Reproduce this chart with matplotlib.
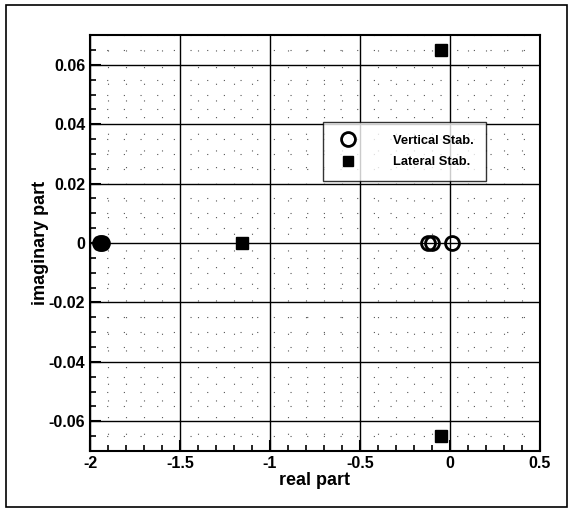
import matplotlib
matplotlib.use('Agg')
import matplotlib.pyplot as plt
from matplotlib.patches import Rectangle
from matplotlib.ticker import MultipleLocator

# eigenvalues (real, imaginary)
vert_re = [-1.945, -1.935, -0.12, -0.10, 0.01]
vert_im = [0.0, 0.0, 0.0, 0.0, 0.0]
lat_re = [-1.94, -1.155, -0.05, -0.05]
lat_im = [0.0, 0.0, 0.065, -0.065]

plt.rcParams['font.family'] = ['Liberation Sans', 'DejaVu Sans']
plt.rcParams['font.weight'] = 'bold'

fig = plt.figure(figsize=(5.7, 5.09), dpi=100)
ax = fig.add_axes([0.158, 0.114, 0.789, 0.817])

ax.plot(vert_re, vert_im, 'o', ms=10, mfc='none', mec='black', mew=2.0,
        ls='none', label='Vertical Stab.')
ax.plot(lat_re, lat_im, 's', ms=8, mfc='black', mec='black',
        ls='none', label='Lateral Stab.')

ax.set_xlim(-2, 0.5)
ax.set_ylim(-0.07, 0.07)
ax.xaxis.set_minor_locator(MultipleLocator(0.1))
ax.yaxis.set_minor_locator(MultipleLocator(0.005))
ax.set_xticks([-2, -1.5, -1, -0.5, 0, 0.5])
ax.set_xticklabels(['-2', '-1.5', '-1', '-0.5', '0', '0.5'])
ax.set_yticks([-0.06, -0.04, -0.02, 0, 0.02, 0.04, 0.06])
ax.set_yticklabels(['-0.06', '-0.04', '-0.02', '0', '0.02', '0.04', '0.06'])

ax.grid(which='major', color='black', lw=1.0)
ax.grid(which='minor', color='#555555', lw=0.8, ls=(0, (1, 14)))
ax.set_axisbelow(True)

ax.tick_params(which='both', direction='in', top=False, right=False,
               labelsize=11.5, width=1.5)
ax.tick_params(which='major', length=8)
ax.tick_params(which='minor', length=4, width=1.2)
for s in ax.spines.values():
    s.set_linewidth(1.5)

ax.set_xlabel('real part', fontsize=13, fontweight='bold', labelpad=1)
ax.set_ylabel('imaginary part', fontsize=13, fontweight='bold', labelpad=0)

leg = ax.legend(loc='upper left', bbox_to_anchor=(0.518, 0.79),
                fontsize=9.3, frameon=True, fancybox=False, edgecolor='black',
                borderpad=0.95, handletextpad=2.5, labelspacing=0.75,
                handlelength=2.0, borderaxespad=0)
leg.get_frame().set_linewidth(1.0)
for t in leg.get_texts():
    t.set_fontweight('bold')
leg.legend_handles[1].set_markersize(7)

# outer frame around the whole figure
fig.patches.append(Rectangle((0.0105, 0.003), 0.985, 0.987, transform=fig.transFigure,
                             fill=False, edgecolor='black', lw=1.2))

fig.savefig('out.png', dpi=100)
